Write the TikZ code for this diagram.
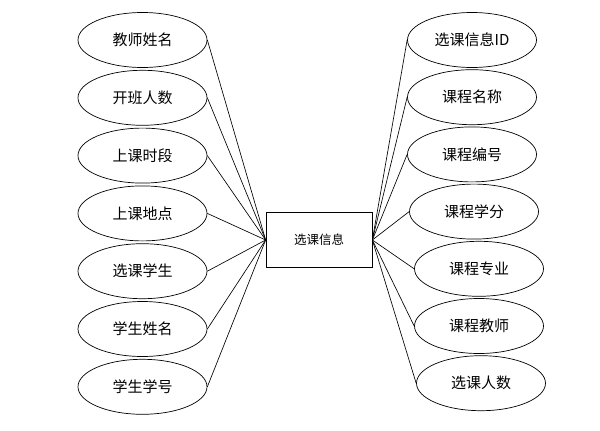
\documentclass[tikz,border=0pt]{standalone}
\usepackage{fontspec}
\newfontfamily\cjk{Noto Sans CJK SC}
\usepackage{tikz}
\usetikzlibrary{shapes,positioning}
\tikzstyle{attr} = [ellipse, draw, line width=0.7pt, minimum width=129pt,
    minimum height=55pt, inner sep=0pt, font=\cjk\fontsize{15}{17}\selectfont]
\tikzstyle{entity} = [rectangle, draw, line width=0.7pt, minimum width=106pt,
    minimum height=55pt, inner sep=0pt, font=\cjk\fontsize{12.5}{15}\selectfont]
\tikzstyle{line} = [draw, line width=0.65pt]

\begin{document}
\begin{tikzpicture}[x=1pt, y=-1pt, node distance=57.8pt]
\useasboundingbox (0,0) rectangle (600,431);

    % Place nodes
    \node [entity] (sel) at (319,240) {选课信息};

    % left attributes
    \node [attr] (tname) at (142.5,40) {教师姓名};
    \node [attr, below of=tname] (tnum) {开班人数};
    \node [attr, below of=tnum] (ttime) {上课时段};
    \node [attr, below of=ttime] (tplace) {上课地点};
    \node [attr, below of=tplace] (stu) {选课学生};
    \node [attr, below of=stu] (sname) {学生姓名};
    \node [attr, below of=sname] (sno) {学生学号};

    % right attributes
    \node [attr] (selid) at (472,40) {选课信息ID};
    \node [attr, below of=selid, node distance=57.2pt] (cname) {课程名称};
    \node [attr, below of=cname, node distance=57.2pt] (cno) {课程编号};
    \node [attr, below of=cno, node distance=57.2pt, xshift=2pt] (credit) {课程学分};
    \node [attr, below of=credit, node distance=57.2pt, xshift=5pt] (major) {课程专业};
    \node [attr, below of=major, node distance=57.2pt] (cteacher) {课程教师};
    \node [attr, below of=cteacher, node distance=57.2pt, xshift=2pt] (selnum) {选课人数};

    \foreach \n in {tname,tnum,ttime,tplace,stu,sname,sno}
        \path [line] (\n.east) -- (sel.west);
    \foreach \n in {selid,cname,cno,credit,major,cteacher,selnum}
        \path [line] (\n.west) -- (sel.east);
\end{tikzpicture}
\end{document}
